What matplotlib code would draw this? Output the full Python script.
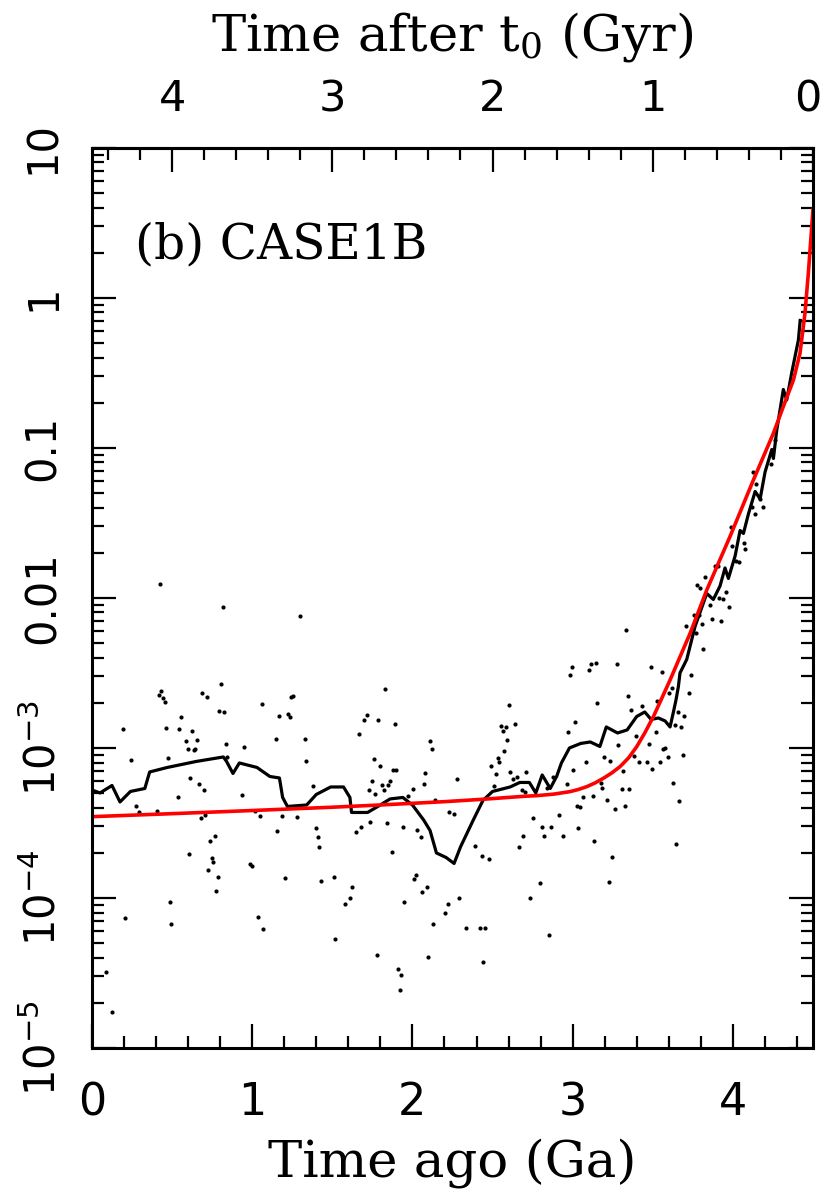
import numpy as np
import matplotlib
matplotlib.use('Agg')
import matplotlib.pyplot as plt
import matplotlib.transforms as mtransforms
from matplotlib.ticker import LogLocator, MultipleLocator, FixedLocator, NullFormatter

plt.rcParams['mathtext.default'] = 'regular'

# black running curve: time ago (Ga), log10 value
line_x = [0.0, 0.05, 0.125, 0.175, 0.24, 0.33, 0.36, 0.47, 0.65, 0.82, 0.84, 0.88, 0.92,
          1.03, 1.11, 1.17, 1.19, 1.22, 1.34, 1.40, 1.49, 1.57, 1.61, 1.62, 1.72, 1.80,
          1.86, 1.94, 2.00, 2.07, 2.11, 2.15, 2.21, 2.26, 2.30, 2.34, 2.38, 2.44, 2.50,
          2.61, 2.67, 2.73, 2.77, 2.81, 2.86, 2.90, 2.93, 2.98, 3.05, 3.11, 3.17, 3.21,
          3.28, 3.34, 3.40, 3.45, 3.49, 3.535, 3.577, 3.608, 3.629, 3.645, 3.660, 3.670,
          3.712, 3.764, 3.837, 3.878, 3.920, 3.951, 3.972, 4.014, 4.045, 4.066, 4.097,
          4.139, 4.170, 4.201, 4.243, 4.253, 4.274, 4.315, 4.336, 4.367, 4.388, 4.409, 4.42]
line_logy = [-3.28, -3.30, -3.25, -3.36, -3.29, -3.27, -3.16, -3.13, -3.09, -3.06, -3.09, -3.17, -3.10,
             -3.13, -3.19, -3.20, -3.33, -3.39, -3.38, -3.31, -3.26, -3.26, -3.33, -3.43, -3.43, -3.38,
             -3.34, -3.33, -3.38, -3.48, -3.55, -3.70, -3.73, -3.77, -3.66, -3.57, -3.48, -3.35, -3.29,
             -3.26, -3.23, -3.23, -3.30, -3.18, -3.27, -3.19, -3.10, -3.00, -2.97, -2.96, -2.99, -2.86,
             -2.90, -2.88, -2.79, -2.76, -2.81, -2.80, -2.82, -2.86, -2.76, -2.68, -2.59, -2.50,
             -2.41, -2.19, -1.97, -2.01, -1.92, -1.80, -1.87, -1.72, -1.55, -1.57, -1.44,
             -1.29, -1.34, -1.16, -1.01, -1.07, -0.88, -0.61, -0.68, -0.50, -0.39, -0.28, -0.15]

# red model curve
fit_x = [0.0, 0.5, 1.0, 1.5, 1.8, 2.2, 2.44, 2.7, 2.776, 2.88, 2.984, 3.035, 3.088, 3.14, 3.192,
         3.245, 3.296, 3.35, 3.40, 3.45, 3.504, 3.555, 3.608, 3.733, 3.837, 3.982, 4.128, 4.253,
         4.315, 4.378, 4.419, 4.450, 4.471, 4.5]
fit_logy = [-3.458, -3.438, -3.417, -3.395, -3.380, -3.358, -3.342, -3.322, -3.318, -3.308, -3.291,
            -3.277, -3.258, -3.233, -3.202, -3.166, -3.124, -3.065, -2.991, -2.900, -2.791, -2.672,
            -2.547, -2.236, -1.947, -1.591, -1.214, -0.902, -0.724, -0.547, -0.369, -0.102, 0.164, 0.59]

# individual samples
dot_x = [0.424, 0.816, 1.296, 0.433, 0.416, 0.445, 0.456, 0.805, 0.687, 0.716, 0.795, 0.826, 1.253,
         1.244, 1.059, 0.191, 0.553, 0.545, 0.464, 0.624, 0.585, 0.653, 0.597, 0.635, 0.645, 0.836,
         0.947, 1.167, 1.226, 1.236, 1.146, 1.328, 1.338, 0.243, 0.474, 0.841, 0.614, 0.666, 0.697,
         0.535, 0.936, 1.377, 0.275, 0.295, 0.404, 0.678, 0.707, 1.015, 1.047, 1.186, 1.280, 1.400,
         1.409, 1.419, 1.157, 0.766, 0.737, 0.603, 0.747, 0.757, 0.726, 0.787, 0.776, 0.988, 0.999,
         1.207, 1.427, 1.511, 0.485, 0.495, 0.204, 1.038, 1.067, 1.519, 1.579, 1.608, 1.621, 1.779,
         1.669, 1.700, 1.719, 1.787, 1.758, 1.798, 1.750, 1.729, 1.769, 1.737, 1.679, 1.648,
         1.829, 1.889, 1.812, 1.823, 1.850, 1.860, 1.877, 1.898, 1.839, 1.871, 1.939, 1.975, 2.002,
         2.031, 2.052, 2.081, 2.072, 2.110, 2.120, 2.143, 2.231, 2.260, 2.281, 2.010, 2.020, 2.060,
         2.091, 1.950, 2.131, 2.201, 2.222, 2.291, 2.332, 2.422, 2.453, 2.391, 2.432, 2.480, 2.099,
         2.511, 2.493, 2.522, 2.532, 2.539, 2.574, 2.551, 2.582, 2.563, 2.593, 2.601, 2.643, 2.611,
         2.630, 2.651, 2.684, 2.701, 2.711, 2.663, 2.692, 2.751, 2.794, 2.734, 2.853, 2.811, 2.821,
         2.863, 2.915, 2.942, 2.875, 2.838, 2.963, 2.973, 2.984, 2.994, 3.013, 3.005, 3.084, 3.034,
         3.025, 3.046, 3.063, 3.105, 3.115, 3.146, 3.155, 3.125, 3.134, 3.175, 3.186, 3.196, 3.215,
         3.225, 3.236, 3.246, 3.265, 3.275, 3.285, 3.306, 3.317, 3.327, 3.333, 3.344, 3.354, 3.367,
         3.385, 3.396, 3.417, 3.435, 3.466, 3.477, 3.487, 3.498, 3.519, 3.529, 3.546, 3.556, 3.566,
         3.577, 3.597, 3.602,
         0.086, 0.125, 1.910, 1.931, 1.920, 2.443,
         3.737, 3.706, 3.758, 3.787, 3.768, 3.808, 3.816, 3.779, 3.797, 3.828, 3.858, 3.868, 3.889,
         3.907, 3.916, 3.937, 3.926, 3.960, 3.978, 3.987, 3.997, 4.018, 4.037, 4.068, 4.078, 4.128,
         4.147, 4.118, 4.138, 4.170, 4.188, 4.238, 4.265,
         3.620, 3.729, 3.660, 3.697, 3.639, 3.677, 3.687, 3.627, 3.666, 3.645]
dot_logy = [-1.905, -2.060, -2.118, -2.622, -2.645, -2.667, -2.691, -2.576, -2.631, -2.662, -2.751,
            -2.758, -2.651, -2.658, -2.709, -2.873, -2.796, -2.876, -2.867, -2.884, -2.956, -2.949,
            -3.009, -3.013, -3.004, -2.973, -2.993, -2.789, -2.773, -2.791, -2.940, -2.938, -3.089,
            -3.080, -3.067, -3.058, -3.200, -3.238, -3.280, -3.329, -3.313, -3.251, -3.387, -3.429,
            -3.420, -3.467, -3.449, -3.418, -3.453, -3.451, -3.462, -3.533, -3.596, -3.662, -3.551,
            -3.584, -3.622, -3.707, -3.736, -3.758, -3.811, -3.858, -3.953, -3.773, -3.787, -3.864,
            -3.887, -3.860, -4.024, -4.171, -4.131, -4.129, -4.209, -4.271, -4.038, -3.998, -3.929,
            -4.382, -2.909, -2.811, -2.778, -2.811, -3.071, -3.120, -3.220, -3.282, -3.309, -3.496,
            -3.529, -3.558,
            -2.607, -2.842, -3.247, -3.280, -3.249, -3.218, -3.147, -3.147, -3.502, -3.696, -3.529,
            -3.318, -3.271, -3.549, -3.596, -3.169, -3.240, -2.956, -3.004, -3.344, -3.429, -3.440,
            -3.209, -3.873, -3.847, -3.962, -3.927, -4.029, -4.176, -4.098, -4.042, -4.000, -4.198,
            -4.198, -4.202, -3.651, -3.720, -3.740, -4.391, -3.251, -3.118, -3.171, -3.069, -3.091,
            -3.020, -2.853, -2.858, -2.884, -2.947, -2.713, -2.838, -3.162, -3.209, -3.191, -3.280,
            -3.293, -3.160, -3.662, -3.587, -3.469, -3.898, -3.998, -4.249, -3.529, -3.587, -3.524,
            -3.447, -3.584, -3.196, -3.264, -3.240, -2.891, -2.516, -2.462, -2.824, -3.147, -3.096,
            -3.533, -3.387, -3.393, -3.329, -2.482, -2.442, -2.436, -2.702, -3.320, -3.618, -3.236,
            -3.267, -3.058, -3.344, -3.893, -3.089, -3.724, -3.404, -2.440, -2.980, -3.276, -3.153,
            -3.387, -2.213, -2.651, -3.276, -2.747, -3.051, -2.918, -3.096, -2.718, -3.096, -2.973,
            -2.462, -3.142, -2.896, -2.687, -3.096, -2.496, -3.009, -3.002, -3.058, -2.636,
            -4.495, -4.762, -4.471, -4.516, -4.611, -4.427,
            -2.511, -2.187, -2.116, -2.116, -2.236, -2.171, -2.342, -1.913, -1.931, -1.860, -2.044,
            -2.140, -1.787, -1.787, -1.998, -2.007, -2.156, -1.958, -2.062, -1.524, -1.651, -1.753,
            -1.762, -1.631, -1.676, -1.158, -1.242, -1.393, -1.438, -1.340, -1.391, -1.104, -0.947,
            -2.600, -2.631, -2.762, -2.787, -2.847, -2.858, -3.049, -3.231, -3.351, -3.640]

ytick_vals = [1e-5, 1e-4, 1e-3, 1e-2, 1e-1, 1, 10]
ytick_labels = ['$10^{-5}$', '$10^{-4}$', '$10^{-3}$', '0.01', '0.1', '1', '10']
top_ticks = [0, 1, 2, 3, 4]
t_total = 4.5

fig = plt.figure(figsize=(8.3, 11.97), dpi=100)
ax = fig.add_axes([0.1108, 0.1245, 0.8687, 0.7519])

ax.plot(dot_x, 10 ** np.array(dot_logy), linestyle='none', marker='o', ms=3.0, color='black', mew=0)
ax.plot(line_x, 10 ** np.array(line_logy), color='black', lw=2.3)
ax.plot(fit_x, 10 ** np.array(fit_logy), color='red', lw=2.6)

ax.set_xlim(0, t_total)
ax.set_yscale('log')
ax.set_ylim(1e-5, 10)

tickfont = 'DejaVu Sans'
ax.xaxis.set_major_locator(MultipleLocator(1))
ax.xaxis.set_minor_locator(MultipleLocator(0.2))
ax.yaxis.set_major_locator(FixedLocator(ytick_vals))
ax.yaxis.set_minor_locator(LogLocator(base=10, subs=np.arange(2, 10), numticks=20))
ax.yaxis.set_minor_formatter(NullFormatter())
ax.set_yticks(ytick_vals)
ax.set_yticklabels(ytick_labels, rotation=90, va='center', fontfamily=tickfont, fontsize=30)
for lab in ax.get_xticklabels():
    lab.set_fontfamily(tickfont)
    lab.set_fontsize(32)

ax.tick_params(which='both', direction='in', top=False, right=True, width=1.6)
ax.tick_params(which='major', length=17)
ax.tick_params(which='minor', length=8.5)
ax.tick_params(axis='x', which='major', pad=24)
ax.tick_params(axis='y', which='major', pad=20)
for s in ax.spines.values():
    s.set_linewidth(2.2)

top = ax.secondary_xaxis('top', functions=(lambda x: t_total - x, lambda t: t_total - t))
top.xaxis.set_major_locator(FixedLocator(top_ticks))
top.xaxis.set_minor_locator(MultipleLocator(0.2))
top.tick_params(which='both', direction='in', width=1.6)
top.tick_params(which='major', length=17, pad=20, labelsize=31)
top.tick_params(which='minor', length=8.5)
top.spines['top'].set_linewidth(2.2)
top.set_xlabel('Time after t$_0$ (Gyr)', fontfamily='DejaVu Serif', fontsize=37, labelpad=20)

ax.set_xlabel('Time ago (Ga)', fontfamily='DejaVu Serif', fontsize=37, labelpad=10)
ax.text(0.06, 0.892, '(b) CASE1B', transform=ax.transAxes, fontfamily='DejaVu Serif',
        fontsize=35, va='center', ha='left')

# keep the "0" at the right corner inside the canvas
fig.canvas.draw()
nudge = mtransforms.ScaledTranslation(-4 / 72, 0, fig.dpi_scale_trans)
for tick in top.xaxis.get_major_ticks():
    if abs(tick.get_loc()) < 1e-9:
        tick.label2.set_transform(tick.label2.get_transform() + nudge)
        tick.label2.set_ha('center')

fig.savefig('out.png', dpi=100)
